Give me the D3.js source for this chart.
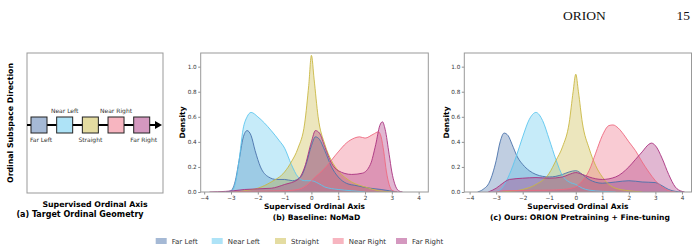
<!DOCTYPE html>
<html>
<head>
<meta charset="utf-8">
<script src="https://cdn.jsdelivr.net/npm/d3@7"></script>
<style>
  body { margin: 0; background: #fff; }
  svg { display: block; font-family: "DejaVu Sans", sans-serif; }
  .tick text { fill: #333; }
</style>
</head>
<body>
<svg id="chart" width="700" height="252"></svg>
<script>

// classes, in ordinal order
const categories = ["Far Left", "Near Left", "Straight", "Near Right", "Far Right"];
const lineColors = ["#4a72aa", "#5cc6ee", "#c9b843", "#ee6a80", "#a9317f"];

const xTicks = [-4, -3, -2, -1, 0, 1, 2, 3, 4];
const yTicks = [0, 0.2, 0.4, 0.6, 0.8, 1.0];

// (b) Baseline: NoMaD  -- [axis value, density]
const baseFarLeft = [[-3.2,0],[-3.0,0.01],[-2.85,0.08],[-2.7,0.25],[-2.55,0.43],[-2.4,0.49],[-2.25,0.45],[-2.1,0.33],[-1.9,0.2],[-1.6,0.12],[-1.3,0.1],[-1.0,0.1],[-0.7,0.09],[-0.4,0.12],[-0.2,0.22],[0,0.37],[0.15,0.44],[0.3,0.42],[0.5,0.33],[0.75,0.2],[1.0,0.12],[1.3,0.07],[1.7,0.05],[2.2,0.03],[2.6,0.02],[2.9,0.01],[3.2,0]];
const baseNearLeft = [[-3.0,0],[-2.85,0.06],[-2.7,0.25],[-2.55,0.5],[-2.4,0.6],[-2.25,0.635],[-2.0,0.6],[-1.75,0.55],[-1.5,0.49],[-1.2,0.41],[-1.0,0.35],[-0.75,0.22],[-0.5,0.12],[-0.25,0.09],[0,0.09],[0.25,0.07],[0.5,0.04],[1.0,0.02],[1.5,0.01],[2.0,0]];
const baseStraight = [[-2.8,0],[-2.5,0.01],[-2.0,0.03],[-1.5,0.08],[-1.0,0.16],[-0.75,0.24],[-0.5,0.35],[-0.25,0.55],[-0.1,0.85],[0,1.09],[0.1,0.9],[0.25,0.6],[0.5,0.38],[0.75,0.25],[1.0,0.17],[1.5,0.08],[2.0,0.04],[2.5,0.01],[3.0,0]];
const baseNearRight = [[-3.0,0],[-2.5,0.005],[-1.0,0.01],[-0.5,0.02],[-0.2,0.05],[0.1,0.11],[0.5,0.19],[1.0,0.32],[1.3,0.39],[1.6,0.43],[1.8,0.44],[2.0,0.43],[2.3,0.46],[2.5,0.48],[2.6,0.44],[2.7,0.32],[2.8,0.16],[2.9,0.06],[3.0,0.015],[3.2,0]];
const baseFarRight = [[-3.8,0],[-3.2,0.005],[-2.9,0.01],[-2.5,0.02],[-1.5,0.03],[-1.0,0.06],[-0.5,0.1],[-0.25,0.2],[0,0.4],[0.15,0.49],[0.3,0.47],[0.5,0.36],[0.75,0.23],[1.0,0.17],[1.5,0.14],[1.9,0.15],[2.2,0.22],[2.4,0.38],[2.55,0.53],[2.65,0.56],[2.75,0.5],[2.9,0.3],[3.0,0.16],[3.1,0.07],[3.25,0.01],[3.4,0]];

// (c) Ours: ORION pretraining + fine-tuning
const oursFarLeft = [[-3.7,0],[-3.5,0.02],[-3.25,0.08],[-3.0,0.25],[-2.85,0.4],[-2.7,0.47],[-2.55,0.45],[-2.4,0.38],[-2.2,0.28],[-2.0,0.22],[-1.75,0.17],[-1.5,0.14],[-1.25,0.125],[-1.0,0.12],[-0.75,0.125],[-0.5,0.14],[-0.25,0.16],[0,0.17],[0.25,0.14],[0.5,0.1],[1.0,0.07],[1.5,0.08],[2.0,0.09],[2.5,0.08],[3.0,0.075],[3.25,0.05],[3.5,0.02],[3.75,0.005],[4.0,0]];
const oursNearLeft = [[-3.0,0],[-2.75,0.04],[-2.5,0.14],[-2.25,0.28],[-2.0,0.44],[-1.75,0.58],[-1.5,0.635],[-1.25,0.57],[-1.0,0.42],[-0.75,0.26],[-0.5,0.13],[-0.25,0.08],[0,0.06],[0.25,0.03],[0.5,0.015],[1.0,0.005],[1.5,0]];
const oursStraight = [[-2.8,0],[-2.5,0.005],[-2.0,0.02],[-1.5,0.06],[-1.0,0.15],[-0.75,0.25],[-0.5,0.36],[-0.25,0.55],[-0.1,0.8],[0,0.94],[0.1,0.8],[0.25,0.55],[0.5,0.35],[0.75,0.21],[1.0,0.12],[1.25,0.06],[1.5,0.03],[2.0,0.01],[2.5,0]];
const oursNearRight = [[-3.0,0],[-2.75,0.01],[-1.0,0.015],[-0.5,0.02],[0,0.04],[0.25,0.09],[0.5,0.17],[0.75,0.31],[1.0,0.45],[1.25,0.53],[1.4,0.535],[1.6,0.51],[1.8,0.46],[2.0,0.4],[2.25,0.33],[2.5,0.24],[2.75,0.16],[3.0,0.09],[3.25,0.04],[3.5,0.01],[3.75,0]];
const oursFarRight = [[-3.3,0],[-3.0,0.03],[-2.75,0.07],[-2.5,0.1],[-2.0,0.11],[-1.5,0.115],[-1.0,0.11],[-0.5,0.12],[-0.25,0.14],[0,0.155],[0.25,0.14],[0.5,0.12],[1.0,0.1],[1.5,0.12],[2.0,0.2],[2.25,0.26],[2.5,0.32],[2.75,0.38],[2.85,0.39],[3.0,0.37],[3.25,0.27],[3.5,0.14],[3.75,0.04],[4.0,0.005],[4.1,0]];

const baseSeries = [baseFarLeft, baseNearLeft, baseStraight, baseNearRight, baseFarRight];
const oursSeries = [oursFarLeft, oursNearLeft, oursStraight, oursNearRight, oursFarRight];

// (a) label placement: above or below the square
const geometrySides = ["below", "above", "below", "above", "below"];

const svg = d3.select("#chart");

function fillColor(c) {
  // matplotlib-like alpha over white
  const rgb = d3.rgb(c);
  const a = 0.5;
  return d3.rgb(rgb.r * a + 255 * (1 - a), rgb.g * a + 255 * (1 - a), rgb.b * a + 255 * (1 - a)).formatHex();
}

// header of the paper page
svg.append("text").attr("x", 563).attr("y", 20)
  .style("font-family", "'Liberation Serif', 'DejaVu Serif', serif")
  .style("font-size", "13.5px").attr("fill", "#111").text("ORION");
svg.append("text").attr("x", 690).attr("y", 20).attr("text-anchor", "end")
  .style("font-family", "'Liberation Serif', 'DejaVu Serif', serif")
  .style("font-size", "13.5px").attr("fill", "#111").text("15");

// ---------- panel (a) ----------
function drawGeometry()
{
  const box = { left: 27, right: 163, top: 53, bottom: 193 };
  const g = svg.append("g");

  g.append("rect")
    .attr("x", box.left).attr("y", box.top)
    .attr("width", box.right - box.left).attr("height", box.bottom - box.top)
    .attr("fill", "none").attr("stroke", "#999").attr("stroke-width", 1);

  const pos = d3.scaleLinear().domain([0, categories.length - 1]).range([39, 141.7]);
  const cy = 125;
  const half = 8;

  // arrow
  g.append("line")
    .attr("x1", box.left).attr("x2", 156).attr("y1", cy).attr("y2", cy)
    .attr("stroke", "#000").attr("stroke-width", 2.2);
  g.append("path")
    .attr("d", "M155," + (cy - 4) + " L162," + cy + " L155," + (cy + 4) + " Z")
    .attr("fill", "#000");

  categories.forEach((name, i) => {
    const x = pos(i);
    g.append("rect")
      .attr("x", x - half).attr("y", cy - half)
      .attr("width", half * 2).attr("height", half * 2)
      .attr("fill", fillColor(lineColors[i]))
      .attr("stroke", "#222").attr("stroke-width", 1);
    g.append("text")
      .attr("x", x + (i === categories.length - 1 ? 2 : (i === 0 ? 2 : 0)))
      .attr("y", geometrySides[i] === "above" ? cy - 12 : cy + 17)
      .attr("text-anchor", "middle")
      .style("font-size", "6px").attr("fill", "#333")
      .text(name);
  });

  g.append("text")
    .attr("transform", "translate(13," + ((box.top + box.bottom) / 2) + ") rotate(-90)")
    .attr("text-anchor", "middle")
    .style("font-size", "7.8px").style("font-weight", "bold")
    .text("Ordinal Subspace Direction");

  g.append("text").attr("x", (box.left + box.right) / 2).attr("y", 207.3)
    .attr("text-anchor", "middle").style("font-size", "7.8px").style("font-weight", "bold")
    .text("Supervised Ordinal Axis");
  g.append("text").attr("x", (box.left + box.right) / 2 - 15).attr("y", 217)
    .attr("text-anchor", "middle").style("font-size", "8px").style("font-weight", "bold")
    .text("(a) Target Ordinal Geometry");
}

// ---------- density panels ----------
function drawDensity(series, frame, xDomain, ylabelX, title, id)
{
  const x = d3.scaleLinear().domain(xDomain).range([frame.left, frame.right]);
  const y = d3.scaleLinear().domain([0, 1.109]).range([frame.bottom, frame.top]);

  const g = svg.append("g");

  g.append("clipPath").attr("id", id)
    .append("rect")
    .attr("x", frame.left).attr("y", frame.top)
    .attr("width", frame.right - frame.left).attr("height", frame.bottom - frame.top);

  const area = d3.area()
    .x(d => x(d[0])).y0(y(0)).y1(d => y(d[1]))
    .curve(d3.curveMonotoneX);
  const line = d3.line()
    .x(d => x(d[0])).y(d => y(d[1]))
    .curve(d3.curveMonotoneX);

  const marks = g.append("g").attr("clip-path", "url(#" + id + ")");
  series.forEach((s, i) => {
    marks.append("path").attr("d", area(s))
      .attr("fill", lineColors[i]).attr("fill-opacity", 0.35);
  });
  series.forEach((s, i) => {
    marks.append("path").attr("d", line(s))
      .attr("fill", "none").attr("stroke", lineColors[i]).attr("stroke-width", 0.9);
  });

  const minus = d => (d < 0 ? "\u2212" + Math.abs(d) : d);

  const xAxis = g.append("g")
    .attr("transform", "translate(0," + frame.bottom + ")")
    .call(d3.axisBottom(x).tickValues(xTicks).tickSize(2.5).tickPadding(1.5).tickFormat(minus));
  const yAxis = g.append("g")
    .attr("transform", "translate(" + frame.left + ",0)")
    .call(d3.axisLeft(y).tickValues(yTicks).tickSize(2.5).tickPadding(1.5).tickFormat(d3.format(".1f")));

  [xAxis, yAxis].forEach(ax => {
    ax.select(".domain").remove();
    ax.selectAll(".tick line").attr("stroke", "#444").attr("stroke-width", 0.6);
    ax.selectAll(".tick text").style("font-size", "5.7px").style("font-family", "'DejaVu Sans', sans-serif");
  });

  g.append("rect")
    .attr("x", frame.left).attr("y", frame.top)
    .attr("width", frame.right - frame.left).attr("height", frame.bottom - frame.top)
    .attr("fill", "none").attr("stroke", "#999").attr("stroke-width", 1);

  g.append("text")
    .attr("transform", "translate(" + ylabelX + "," + ((frame.top + frame.bottom) / 2) + ") rotate(-90)")
    .attr("text-anchor", "middle")
    .style("font-size", "7.5px").style("font-weight", "bold")
    .text("Density");

  g.append("text").attr("x", (frame.left + frame.right) / 2).attr("y", 208.5)
    .attr("text-anchor", "middle").style("font-size", "7.5px").style("font-weight", "bold")
    .text("Supervised Ordinal Axis");
  g.append("text").attr("x", (frame.left + frame.right) / 2 + 2).attr("y", 219.5)
    .attr("text-anchor", "middle").style("font-size", "7.6px").style("font-weight", "bold")
    .text(title);
}

drawGeometry();
drawDensity(baseSeries, { left: 200.7, right: 428.3, top: 53, bottom: 192 }, [-4.13, 4.36], 185,
            "(b) Baseline: NoMaD", "clipB");
drawDensity(oursSeries, { left: 464.3, right: 691.5, top: 53, bottom: 192 }, [-4.2, 4.36], 449,
            "(c) Ours: ORION Pretraining + Fine-tuning", "clipC");

// ---------- legend ----------
const legendX = [155.7, 211.7, 275, 332.7, 396];
const legend = svg.append("g");
categories.forEach((name, i) => {
  legend.append("rect")
    .attr("x", legendX[i]).attr("y", 238)
    .attr("width", 11).attr("height", 6)
    .attr("fill", fillColor(lineColors[i]));
  legend.append("text")
    .attr("x", legendX[i] + 16).attr("y", 243.5)
    .style("font-size", "7px").attr("fill", "#333")
    .text(name);
});
</script>
</body>
</html>
